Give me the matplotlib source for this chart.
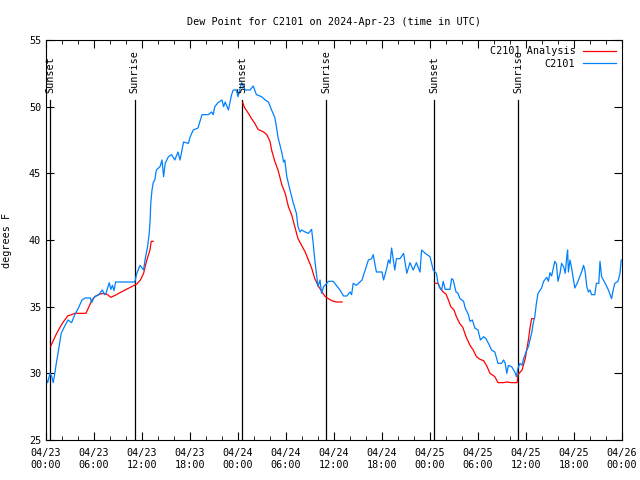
import numpy as np
import matplotlib
matplotlib.use("Agg")
import matplotlib.pyplot as plt

plt.rcParams['font.family'] = ['DejaVu Sans Mono']

# observed dew point (hours since 04/23 00:00 UTC, degrees F)
obs_hours = [0.0, 0.2, 0.5, 0.7, 0.9, 1.1, 1.3, 1.5, 1.9, 2.3, 2.75, 3.2, 3.6, 4.05, 4.5, 4.9,
             5.55, 5.7, 6.0, 6.6, 7.05, 7.3, 7.5, 7.9, 8.1, 8.3, 8.5, 8.7, 11.1, 11.35, 11.75,
             12.2, 12.4, 12.7, 12.9, 13.0, 13.1, 13.25, 13.4, 13.6, 13.8, 14.25, 14.5, 14.7,
             14.9, 15.3, 15.7, 16.1, 16.5, 16.75, 17.2, 17.8, 18.0, 18.4, 19.0, 19.5, 20.3,
             20.7, 20.9, 21.1, 21.5, 22.0, 22.2, 22.4, 22.8, 23.2, 23.4, 23.8, 24.0, 24.45,
             24.9, 25.5, 25.9, 26.3, 26.95, 27.4, 27.8, 28.2, 28.6, 28.8, 29.0, 29.5, 29.7,
             29.85, 30.1, 30.5, 30.9, 31.3, 31.5, 31.75, 31.95, 32.4, 32.8, 33.2, 33.4, 33.6,
             33.8, 34.0, 34.25, 34.45, 34.7, 35.1, 35.3, 35.9, 36.3, 36.75, 37.2, 37.6, 38.0,
             38.2, 38.4, 38.8, 39.5, 39.9, 40.3, 40.7, 40.9, 41.3, 42.0, 42.2, 42.6, 42.8,
             43.0, 43.2, 43.4, 43.6, 43.8, 44.25, 44.7, 45.1, 45.5, 45.9, 46.3, 46.75, 46.95,
             47.4, 48.0, 48.4, 48.8, 49.0, 49.25, 49.45, 49.65, 49.9, 50.5, 50.7, 50.9, 51.25,
             51.5, 51.75, 52.2, 52.4, 52.8, 53.0, 53.3, 53.6, 54.0, 54.3, 54.7, 55.0, 55.3,
             55.7, 56.1, 56.5, 56.95, 57.2, 57.4, 57.6, 57.8, 58.2, 58.6, 58.8, 59.0, 59.25,
             59.5, 59.7, 60.1, 60.3, 60.5, 60.7, 60.9, 61.1, 61.3, 61.5, 61.95, 62.2, 62.6,
             62.8, 63.0, 63.2, 63.6, 63.8, 64.0, 64.25, 64.45, 64.7, 64.9, 65.1, 65.2, 65.3,
             65.5, 65.7, 66.1, 66.5, 66.95, 67.2, 67.4, 67.6, 67.8, 68.0, 68.2, 68.6, 68.8,
             69.1, 69.25, 69.45, 69.9, 70.3, 70.7, 70.9, 71.1, 71.5, 71.75, 71.9]
obs_dewpt = [29.6, 29.3, 30.0, 29.8, 29.3, 30.0, 30.8, 31.5, 33.0, 33.5, 34.0, 33.8, 34.4, 34.9,
             35.5, 35.65, 35.65, 35.3, 35.7, 35.9, 36.25, 35.9, 36.0, 36.8, 36.3, 36.6, 36.2,
             36.85, 36.85, 37.5, 38.1, 37.75, 38.6, 39.5, 40.5, 41.3, 42.8, 43.75, 44.3, 44.5,
             45.25, 45.5, 46.0, 44.75, 45.75, 46.25, 46.4, 46.0, 46.6, 46.0, 47.35, 47.25, 47.7,
             48.25, 48.4, 49.4, 49.4, 49.6, 49.4, 50.0, 50.3, 50.5, 50.0, 50.35, 49.75, 50.9,
             51.25, 51.25, 50.75, 51.8, 51.25, 51.25, 51.55, 50.9, 50.75, 50.5, 50.35, 49.75,
             49.2, 48.5, 47.7, 46.5, 45.85, 46.0, 44.75, 43.75, 42.8, 42.0, 41.0, 40.6, 40.75,
             40.6, 40.5, 40.8, 39.75, 38.5, 37.5, 36.5, 37.0, 36.0, 36.5, 36.75, 36.9, 36.9,
             36.6, 36.25, 35.8, 35.8, 36.1, 35.9, 36.75, 36.6, 37.0, 37.75, 38.5, 38.6, 38.9,
             37.6, 37.6, 37.0, 37.9, 38.5, 38.25, 39.4, 38.6, 37.75, 38.6, 38.6, 39.0, 37.5,
             38.3, 37.75, 38.3, 37.6, 39.25, 39.0, 38.75, 37.75, 37.5, 36.75, 36.4, 36.25, 36.9,
             36.3, 36.3, 37.1, 37.0, 36.1, 36.0, 35.6, 35.4, 34.9, 34.4, 33.9, 34.0, 33.4,
             33.25, 32.5, 32.75, 32.6, 32.25, 31.75, 31.6, 30.75, 30.75, 31.0, 30.75, 30.0,
             30.6, 30.5, 30.1, 29.75, 30.4, 30.75, 30.6, 31.1, 31.75, 32.0, 32.5, 33.0, 33.75,
             34.25, 35.25, 36.0, 36.4, 36.9, 37.2, 36.9, 37.55, 37.3, 38.4, 38.2, 36.9, 37.5,
             38.25, 38.0, 37.5, 38.75, 39.25, 37.6, 38.5, 37.9, 36.4, 36.9, 37.6, 38.1, 37.6,
             36.5, 36.1, 36.25, 35.9, 35.9, 36.75, 36.75, 38.4, 37.25, 36.75, 36.25, 35.6,
             36.25, 36.75, 36.9, 37.5, 38.5]

# analysis dew point, three pieces (nan = gap)
ana_hours = [0.6, 1.25, 1.7, 2.1, 2.7, 3.2, 3.6, 4.05, 5.0, 5.3, 5.75, 6.2, 6.8, 7.25, 7.7, 8.1,
             8.8, 9.4, 10.05, 10.7, 11.35, 11.8, 12.2, 12.6, 13.0, 13.15, 13.4, np.nan,
             24.6, 24.8, 25.3, 25.7, 26.1, 26.5, 27.2, 27.6, 28.0, 28.2, 28.6, 29.0, 29.5, 29.9,
             30.3, 30.7, 31.1, 31.5, 31.95, 32.4, 32.8, 33.2, 33.6, 34.0, 34.5, 34.9, 35.3, 35.7,
             36.3, 37.0, np.nan,
             48.6, 49.0, 49.25, 49.65, 50.0, 50.3, 50.6, 51.0, 51.3, 51.7, 52.1, 52.5, 53.0,
             53.4, 53.8, 54.25, 54.7, 55.1, 55.5, 56.1, 56.5, 57.2, 57.6, 58.2, 58.9, 59.0,
             59.5, 59.9, 60.3, 60.5, 60.7, 61.0]
ana_dewpt = [32.05, 32.9, 33.4, 33.8, 34.3, 34.4, 34.5, 34.5, 34.5, 34.9, 35.5, 35.8, 35.95,
             36.0, 35.9, 35.7, 35.9, 36.1, 36.3, 36.5, 36.7, 37.0, 37.5, 38.5, 39.25, 39.9, 39.9,
             np.nan,
             50.3, 49.95, 49.5, 49.1, 48.75, 48.3, 48.1, 47.9, 47.4, 46.75, 45.9, 45.25, 44.1,
             43.5, 42.5, 41.9, 41.0, 40.1, 39.6, 39.1, 38.5, 37.9, 37.1, 36.6, 36.1, 35.75, 35.6,
             35.45, 35.35, 35.35, np.nan,
             36.75, 36.75, 36.4, 36.1, 35.95, 35.5, 35.0, 34.75, 34.25, 33.75, 33.45, 32.75,
             32.1, 31.75, 31.25, 31.05, 30.95, 30.55, 30.0, 29.75, 29.3, 29.3, 29.35, 29.3,
             29.3, 29.9, 30.25, 31.1, 32.5, 33.4, 34.1, 34.1]

sun_hours = [0.5, 11.1, 24.5, 35.0, 48.5, 59.0]
sun_labels = ['Sunset', 'Sunrise', 'Sunset', 'Sunrise', 'Sunset', 'Sunrise']

tick_labels = ['04/23\n00:00', '04/23\n06:00', '04/23\n12:00', '04/23\n18:00',
               '04/24\n00:00', '04/24\n06:00', '04/24\n12:00', '04/24\n18:00',
               '04/25\n00:00', '04/25\n06:00', '04/25\n12:00', '04/25\n18:00',
               '04/26\n00:00']

fs = 7.3
fig = plt.figure(figsize=(6.4, 4.8), dpi=100)
ax = fig.add_axes([46 / 640, 40 / 480, 576 / 640, 400 / 480])

for h, lab in zip(sun_hours, sun_labels):
    ax.plot([h, h], [25, 50.5], color='black', lw=0.9)
    ax.text(h, 51.0, lab, rotation=90, ha='center', va='bottom', fontsize=fs)

ax.plot(ana_hours, ana_dewpt, color='#ff0000', lw=0.9, label='C2101 Analysis')
ax.plot(obs_hours, obs_dewpt, color='#0080ff', lw=0.9, label='C2101')

ax.set_xlim(0, 72)
ax.set_ylim(25, 55)
ax.set_xticks(np.arange(0, 73, 6))
ax.set_xticklabels(tick_labels, fontsize=fs)
ax.set_xticks(np.arange(0, 73, 2), minor=True)
ax.set_yticks(np.arange(25, 56, 5))
ax.tick_params(axis='both', which='both', direction='in', top=True, right=True, labelsize=fs)
ax.tick_params(which='major', length=6)
ax.tick_params(which='minor', length=3)
ax.tick_params(axis='x', pad=6)

ax.set_title('Dew Point for C2101 on 2024-Apr-23 (time in UTC)', fontsize=fs, pad=11)
ax.set_ylabel('degrees F', fontsize=fs, labelpad=12)

ax.legend(loc='upper right', frameon=False, markerfirst=False, fontsize=fs,
          handlelength=3.2, borderaxespad=0.2, labelspacing=0.25)

fig.savefig('out.png', dpi=100)
